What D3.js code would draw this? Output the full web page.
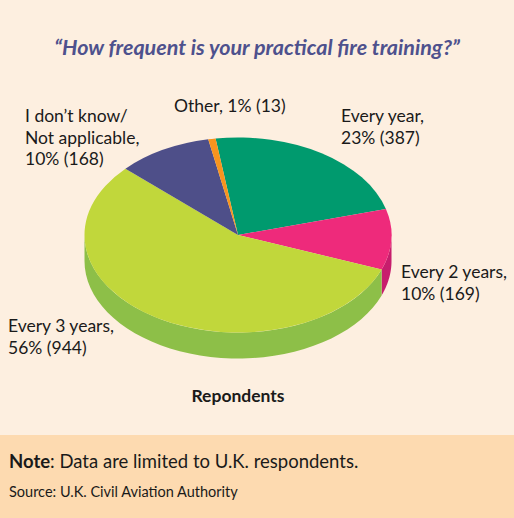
<!DOCTYPE html>
<meta charset="utf-8">
<style>
  body { margin: 0; }
  svg { display: block; font-family: Lato, "Open Sans", sans-serif; }
</style>
<body>
<div id="chart"></div>
<script src="https://d3js.org/d3.v7.min.js"></script>
<script>
// page size
var width = 514,
    height = 518;

// data
var categories = ["Every year", "Every 2 years", "Every 3 years", "I don\u2019t know/ Not applicable", "Other"];
var counts = [387, 169, 944, 168, 13];
var percents = [23, 10, 56, 10, 1];
var labelLines = [
  ["Every year,", "23% (387)"],
  ["Every 2 years,", "10% (169)"],
  ["Every 3 years,", "56% (944)"],
  ["I don\u2019t know/", "Not applicable,", "10% (168)"],
  ["Other, 1% (13)"]
];
var topColors = ["#009a6e", "#ee2a7b", "#c1d73b", "#4e4f89", "#f7941e"];
var sideColors = ["#007a57", "#c71d6d", "#8dbf48", "#3c3d70", "#d17a12"];

// pie geometry
var cx = 238, cy = 235, rx = 153.5, ry = 97.5, depth = 26;
var startDeg = -8.4;

var svg = d3.select("#chart").append("svg")
    .attr("width", width)
    .attr("height", height);

// backgrounds
svg.append("rect").attr("width", width).attr("height", height).attr("fill", "#fdefe0");
svg.append("rect").attr("y", 435).attr("width", width).attr("height", height - 435).attr("fill", "#fddab0");

// title
svg.append("text")
    .attr("x", 257).attr("y", 55)
    .attr("text-anchor", "middle")
    .attr("font-size", 21.5)
    .attr("font-weight", "bold")
    .attr("font-style", "italic")
    .attr("fill", "#4e518d")
    .text("\u201cHow frequent is your practical fire training?\u201d");

var pie = d3.pie()
    .sort(null)
    .startAngle(startDeg * Math.PI / 180)
    .endAngle(startDeg * Math.PI / 180 + 2 * Math.PI);

var arcs = pie(counts);

function pt(a, dy) {
  return [cx + rx * Math.sin(a), cy - ry * Math.cos(a) + (dy || 0)];
}

// side walls, only the front half shows
var side = svg.append("g").attr("class", "sides");
arcs.forEach(function(d, i) {
  var a0 = Math.max(d.startAngle, Math.PI / 2),
      a1 = Math.min(d.endAngle, 3 * Math.PI / 2);
  if (a0 >= a1) return;
  var steps = d3.range(0, 41).map(function(k) { return a0 + (a1 - a0) * k / 40; });
  var pts = steps.map(function(a) { return pt(a); })
      .concat(steps.slice().reverse().map(function(a) { return pt(a, depth); }));
  side.append("path")
      .attr("d", d3.line()(pts) + "Z")
      .attr("fill", sideColors[i]);
});

// top face: unit circle arcs squashed into an ellipse
var arc = d3.arc().innerRadius(0).outerRadius(rx);
svg.append("g")
    .attr("transform", "translate(" + cx + "," + cy + ") scale(1," + (ry / rx) + ")")
  .selectAll("path")
    .data(arcs)
  .enter().append("path")
    .attr("d", arc)
    .attr("fill", function(d, i) { return topColors[i]; });

// labels
var labelPos = [[341, 122], [401, 278], [8, 332], [25, 122], [174, 112]];
var labels = svg.append("g")
    .attr("font-size", 17.5)
    .attr("fill", "#1a1a1a");
labelLines.forEach(function(lines, i) {
  var t = labels.append("text")
      .attr("x", labelPos[i][0])
      .attr("y", labelPos[i][1]);
  lines.forEach(function(s, j) {
    t.append("tspan")
        .attr("x", labelPos[i][0])
        .attr("dy", j === 0 ? 0 : 21.5)
        .text(s);
  });
});

svg.append("text")
    .attr("x", 238).attr("y", 402)
    .attr("text-anchor", "middle")
    .attr("font-size", 17.5)
    .attr("font-weight", "bold")
    .attr("fill", "#1a1a1a")
    .text("Repondents");

// footer
var note = svg.append("text")
    .attr("x", 9).attr("y", 468)
    .attr("font-size", 18.5)
    .attr("fill", "#1a1a1a");
note.append("tspan").attr("font-weight", "bold").text("Note");
note.append("tspan").text(": Data are limited to U.K. respondents.");

svg.append("text")
    .attr("x", 9).attr("y", 497)
    .attr("font-size", 14.5)
    .attr("fill", "#1a1a1a")
    .text("Source: U.K. Civil Aviation Authority");
</script>
</body>
